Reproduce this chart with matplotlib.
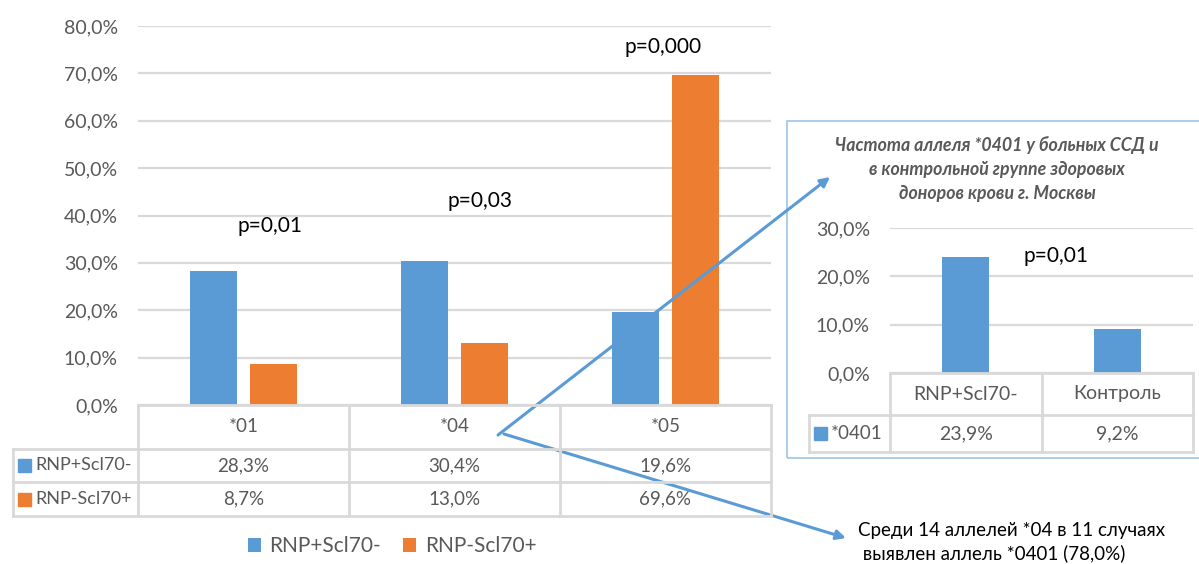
import numpy as np
import matplotlib
matplotlib.use("Agg")
import matplotlib.pyplot as plt
import matplotlib.transforms as mtransforms
from matplotlib.patches import Rectangle, FancyArrowPatch
from matplotlib.ticker import FuncFormatter, MultipleLocator

# ---- data ----
alleles = ["*01", "*04", "*05"]
series_names = ["RNP+Scl70-", "RNP-Scl70+"]
rnp_pos = [28.3, 30.4, 19.6]      # RNP+Scl70-, %
rnp_neg = [8.7, 13.0, 69.6]       # RNP-Scl70+, %
p_values = ["p=0,01", "p=0,03", "p=0,000"]

inset_groups = ["RNP+Scl70-", "Контроль"]
inset_name = "*0401"
inset_values = [23.9, 9.2]
inset_p = "p=0,01"
inset_title = ("Частота аллеля *0401 у больных ССД и\n"
               "в контрольной группе здоровых\n"
               "доноров крови г. Москвы")
note_text = ("Среди 14 аллелей *04 в 11 случаях\n"
             " выявлен аллель *0401 (78,0%)")

# ---- style ----
BLUE = "#5B9BD5"
ORANGE = "#ED7D31"
GRID = "#D9D9D9"
TXT = "#595959"
plt.rcParams["font.family"] = ["Lato", "Open Sans", "DejaVu Sans"]

W, H = 1199, 564
fig = plt.figure(figsize=(W / 100, H / 100), dpi=100)


def fx(x):
    return x / W


def fy(y):
    return 1 - y / H


def box(x0, y0, x1, y1):
    return [fx(x0), fy(y1), (x1 - x0) / W, (y1 - y0) / H]


def pct(v, _=None):
    return f"{v:.1f}%".replace(".", ",")


def style_axes(a, ymax, step):
    a.set_ylim(0, ymax)
    a.yaxis.set_major_locator(MultipleLocator(step))
    a.yaxis.set_major_formatter(FuncFormatter(pct))
    a.grid(axis="y", color=GRID, lw=1.6)
    a.set_axisbelow(True)
    for s in a.spines.values():
        s.set_visible(False)
    a.tick_params(axis="y", length=0, pad=14.5, labelsize=14, labelcolor=TXT)
    a.tick_params(axis="x", length=0, labelbottom=False)


def draw_table(a, n_cols, label_left, header_y, row_ys, header_labels,
               row_labels, row_values, row_colors, fsize=13.5):
    """Data table under a bar axes: x in data units, y in figure pixels."""
    tr = mtransforms.blended_transform_factory(a.transData, fig.transFigure)
    edges = np.arange(n_cols + 1) - 0.5
    top, hdr_bot = header_y
    row_edges = [hdr_bot] + [r[1] for r in row_ys]
    kw = dict(color=GRID, lw=2, transform=tr, clip_on=False)
    # horizontal lines
    fig.add_artist(plt.Line2D([edges[0], edges[-1]], [fy(top)] * 2, **kw))
    for ye in row_edges:
        fig.add_artist(plt.Line2D([label_left, edges[-1]], [fy(ye)] * 2, **kw))
    # vertical lines
    for xe in edges:
        fig.add_artist(plt.Line2D([xe, xe], [fy(top), fy(row_edges[-1])], **kw))
    fig.add_artist(plt.Line2D([label_left, label_left],
                              [fy(hdr_bot), fy(row_edges[-1])], **kw))
    # header
    yc = fy((top + hdr_bot) / 2)
    for i, lab in enumerate(header_labels):
        a.text(i, yc, lab, transform=tr, ha="center", va="center",
               fontsize=fsize, color=TXT)
    # rows
    lx_pix = a.transData.transform((label_left, 0))[0]
    for (y0, y1), lab, vals, col in zip(row_ys, row_labels, row_values, row_colors):
        ym = (y0 + y1) / 2
        fig.add_artist(Rectangle((fx(lx_pix + 5), fy(ym + 6.5)), 13 / W, 13 / H,
                                 transform=fig.transFigure, color=col))
        fig.text(fx(lx_pix + 22), fy(ym), lab, ha="left", va="center",
                 fontsize=fsize - 0.5, color=TXT)
        for i, v in enumerate(vals):
            a.text(i, fy(ym), pct(v), transform=tr, ha="center", va="center",
                   fontsize=fsize, color=TXT)


# ---- main chart ----
ax = fig.add_axes(box(138, 26, 771, 405))
x = np.arange(len(alleles))
bw, off = 0.223, 0.142
ax.bar(x - off, rnp_pos, bw, color=BLUE, label=series_names[0])
ax.bar(x + off, rnp_neg, bw, color=ORANGE, label=series_names[1])
ax.set_xlim(-0.5, len(alleles) - 0.5)
style_axes(ax, 80, 10)

p_pos = [(270, 226), (480, 201), (663, 47)]
tr_main = mtransforms.blended_transform_factory(ax.transData, fig.transFigure)
for lab, (px, py) in zip(p_values, p_pos):
    xd = ax.transData.inverted().transform((px, 0))[0]
    ax.text(xd, fy(py), lab, transform=tr_main, ha="center", va="center",
            fontsize=15, color="black")

px_per_unit = (771 - 138) / len(alleles)
draw_table(ax, len(alleles), -0.5 - 125 / px_per_unit, (405, 449),
           [(449, 482), (482, 516)], alleles, series_names,
           [rnp_pos, rnp_neg], [BLUE, ORANGE])

handles, labels = ax.get_legend_handles_labels()
fig.legend(handles, labels, loc="center", bbox_to_anchor=(fx(392), fy(546)),
           ncol=2, frameon=False, fontsize=15, labelcolor=TXT,
           handlelength=0.65, handleheight=0.65, handletextpad=0.4,
           columnspacing=1.05)

# ---- inset chart ----
fig.add_artist(Rectangle((fx(787), fy(458)), (1210 - 787) / W, (458 - 121) / H,
                         transform=fig.transFigure, fill=False,
                         edgecolor="#9DC3E6", lw=1.2))
fig.text(fx(997), fy(169), inset_title, ha="center", va="center",
         fontsize=12.8, fontstyle="italic", fontweight="bold", color=TXT,
         linespacing=1.5)

ax2 = fig.add_axes(box(890, 228, 1193, 373))
x2 = np.arange(len(inset_groups))
ax2.bar(x2, inset_values, 0.31, color=BLUE, label=inset_name)
ax2.set_xlim(-0.5, len(inset_groups) - 0.5)
style_axes(ax2, 30, 10)
tr_in = mtransforms.blended_transform_factory(ax2.transData, fig.transFigure)
ax2.text(ax2.transData.inverted().transform((1056, 0))[0], fy(256), inset_p,
         transform=tr_in, ha="center", va="center", fontsize=15, color="black")
px2 = (1193 - 890) / len(inset_groups)
draw_table(ax2, len(inset_groups), -0.5 - 81 / px2, (373, 415), [(415, 452)],
           inset_groups, [inset_name], [inset_values], [BLUE], fsize=14)

# ---- arrows and note ----
for (x0, y0), (x1, y1) in [((498, 435), (830, 177)), ((504, 434), (846, 538))]:
    fig.add_artist(FancyArrowPatch((fx(x0), fy(y0)), (fx(x1), fy(y1)),
                                   transform=fig.transFigure,
                                   arrowstyle="-|>", mutation_scale=14,
                                   lw=2.2, color=BLUE, shrinkA=0, shrinkB=0))
fig.text(fx(858), fy(542), note_text, ha="left", va="center", fontsize=13.5,
         color="black", linespacing=1.4)

fig.savefig("out.png", dpi=100)
